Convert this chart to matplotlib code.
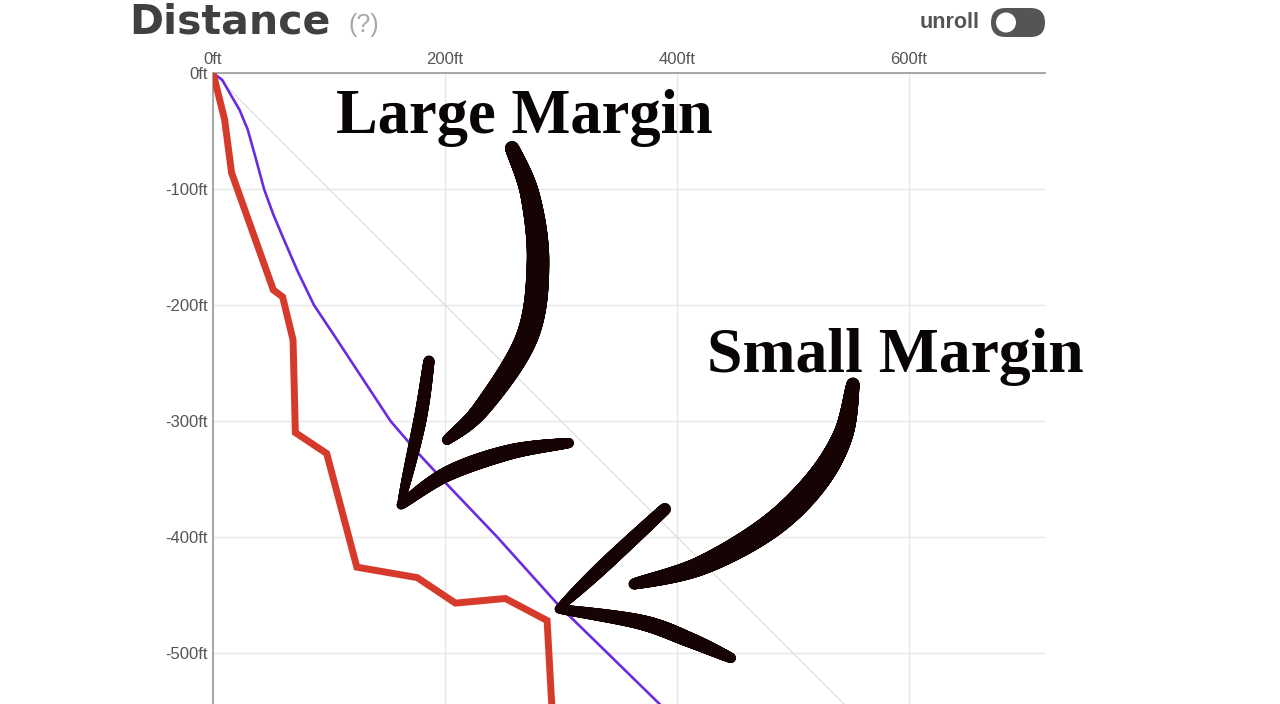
import numpy as np
import matplotlib
matplotlib.use("Agg")
import matplotlib.pyplot as plt
from matplotlib.collections import LineCollection
from matplotlib.patches import FancyBboxPatch, Circle

# ── data (feet) ─────────────────────────────────────────
red_x = [0, 10, 16, 52, 60, 69, 71, 98, 124, 176, 209, 252, 288, 292, 294]
red_y = [0, -40, -86, -187, -193, -230, -310, -328, -426, -435, -457, -453, -472, -544, -580]

purple_x = [0, 4, 8, 16, 23, 30, 37, 44, 52, 60, 73, 87, 103, 128, 153, 178, 204, 245, 299, 340, 385, 400]
purple_y = [0, -3, -6, -20, -32, -49, -74, -100, -122, -141, -171, -200, -224, -262, -300, -329, -357, -400, -460, -500, -544, -560]

ref_x = [0, 800]
ref_y = [0, -800]

x_ticks = [0, 200, 400, 600]
y_ticks = [0, -100, -200, -300, -400, -500]

W, H = 1280, 704
fig = plt.figure(figsize=(W / 100, H / 100), dpi=100)
fig.patch.set_facecolor("white")

# chart axes: 0ft at px (213, 73), 1.16 px per ft
ax = fig.add_axes([213 / W, 0, (1045 - 213) / W, 1 - 73 / H])
ax.set_xlim(0, (1045 - 213) / 1.16)
ax.set_ylim(-(H - 73) / 1.16, 0)

ax.set_xticks(x_ticks)
ax.set_xticklabels([f"{v}ft" for v in x_ticks])
ax.set_yticks(y_ticks)
ax.set_yticklabels([f"{v}ft" for v in y_ticks])
ax.xaxis.tick_top()
ax.tick_params(length=0, labelsize=12, labelcolor="#555555", pad=4)
for lab in ax.get_xticklabels() + ax.get_yticklabels():
    lab.set_family("Liberation Sans")
ax.grid(True, color="#e6e6e6", lw=1.0)
ax.set_axisbelow(True)
for s in ["right", "bottom"]:
    ax.spines[s].set_visible(False)
for s in ["top", "left"]:
    ax.spines[s].set_color("#9a9a9a")
    ax.spines[s].set_linewidth(1.2)

ax.plot(ref_x, ref_y, color="#e2e2e2", lw=1.0, zorder=1)
ax.plot(purple_x, purple_y, color="#6a2ce0", lw=1.9, zorder=3, solid_joinstyle="round")
ax.plot(red_x, red_y, color="#d63a2b", lw=5.0, zorder=4, solid_joinstyle="miter",
        solid_capstyle="round")

# ── overlay in pixel coordinates ────────────────────────
ov = fig.add_axes([0, 0, 1, 1], facecolor="none")
ov.set_xlim(0, W)
ov.set_ylim(H, 0)
ov.axis("off")

ov.text(129, 33, "Distance", fontsize=29.5, color="#404040", family="DejaVu Sans",
        weight="bold", ha="left", va="baseline")
ov.text(348, 32, "(?)", fontsize=18, color="#a8a8a8", family="Liberation Sans",
        ha="left", va="baseline")
ov.text(980, 22, "unroll", fontsize=15.5, color="#555555", family="Liberation Sans",
        weight="bold", ha="right", va="center")
ov.add_patch(FancyBboxPatch((991, 8), 54, 29, boxstyle="round,pad=0,rounding_size=14.5",
                            fc="#555555", ec="none"))
ov.add_patch(Circle((1006, 22.5), 10, fc="white", ec="none"))

ov.text(336, 133, "Large Margin", fontsize=45, weight="bold", family="Liberation Serif",
        color="#0a0505", ha="left", va="baseline")
ov.text(707, 372, "Small Margin", fontsize=45.8, weight="bold", family="Liberation Serif",
        color="#0a0505", ha="left", va="baseline")


def catmull(pts, n=120):
    p = np.array(pts, float)
    p = np.vstack([p[0], p, p[-1]])
    out = []
    for i in range(1, len(p) - 2):
        p0, p1, p2, p3 = p[i - 1], p[i], p[i + 1], p[i + 2]
        for t in np.linspace(0, 1, n, endpoint=False):
            t2, t3 = t * t, t * t * t
            out.append(0.5 * (2 * p1 + (-p0 + p2) * t + (2 * p0 - 5 * p1 + 4 * p2 - p3) * t2
                              + (-p0 + 3 * p1 - 3 * p2 + p3) * t3))
    out.append(p[-2])
    return np.array(out)


def brush(pts, w0, wm, w1):
    c = catmull(pts)
    t = np.linspace(0, 1, len(c) - 1)
    w = np.where(t < 0.5, w0 + (wm - w0) * np.sin(np.pi * t),
                 w1 + (wm - w1) * np.sin(np.pi * t))
    segs = np.stack([c[:-1], c[1:]], axis=1)
    lc = LineCollection(segs, linewidths=w * 0.72, colors="#160404", capstyle="round",
                        joinstyle="round")
    ov.add_collection(lc)


# Large Margin arrow
brush([(512, 148), (530, 195), (538, 263), (527, 337), (482, 408), (447, 440)], 14, 23, 10)
brush([(429, 361), (420, 420), (401, 503)], 11, 13, 7)
brush([(401, 505), (447, 474), (510, 452), (569, 443)], 9, 16, 10)

# Small Margin arrow
brush([(853, 384), (843, 435), (815, 483), (768, 528), (700, 566), (634, 584)], 13, 25, 11)
brush([(665, 509), (610, 560), (559, 608)], 12, 14, 7)
brush([(559, 609), (640, 622), (690, 640), (731, 658)], 9, 16, 10)

fig.savefig("out.png", dpi=100, facecolor="white")
